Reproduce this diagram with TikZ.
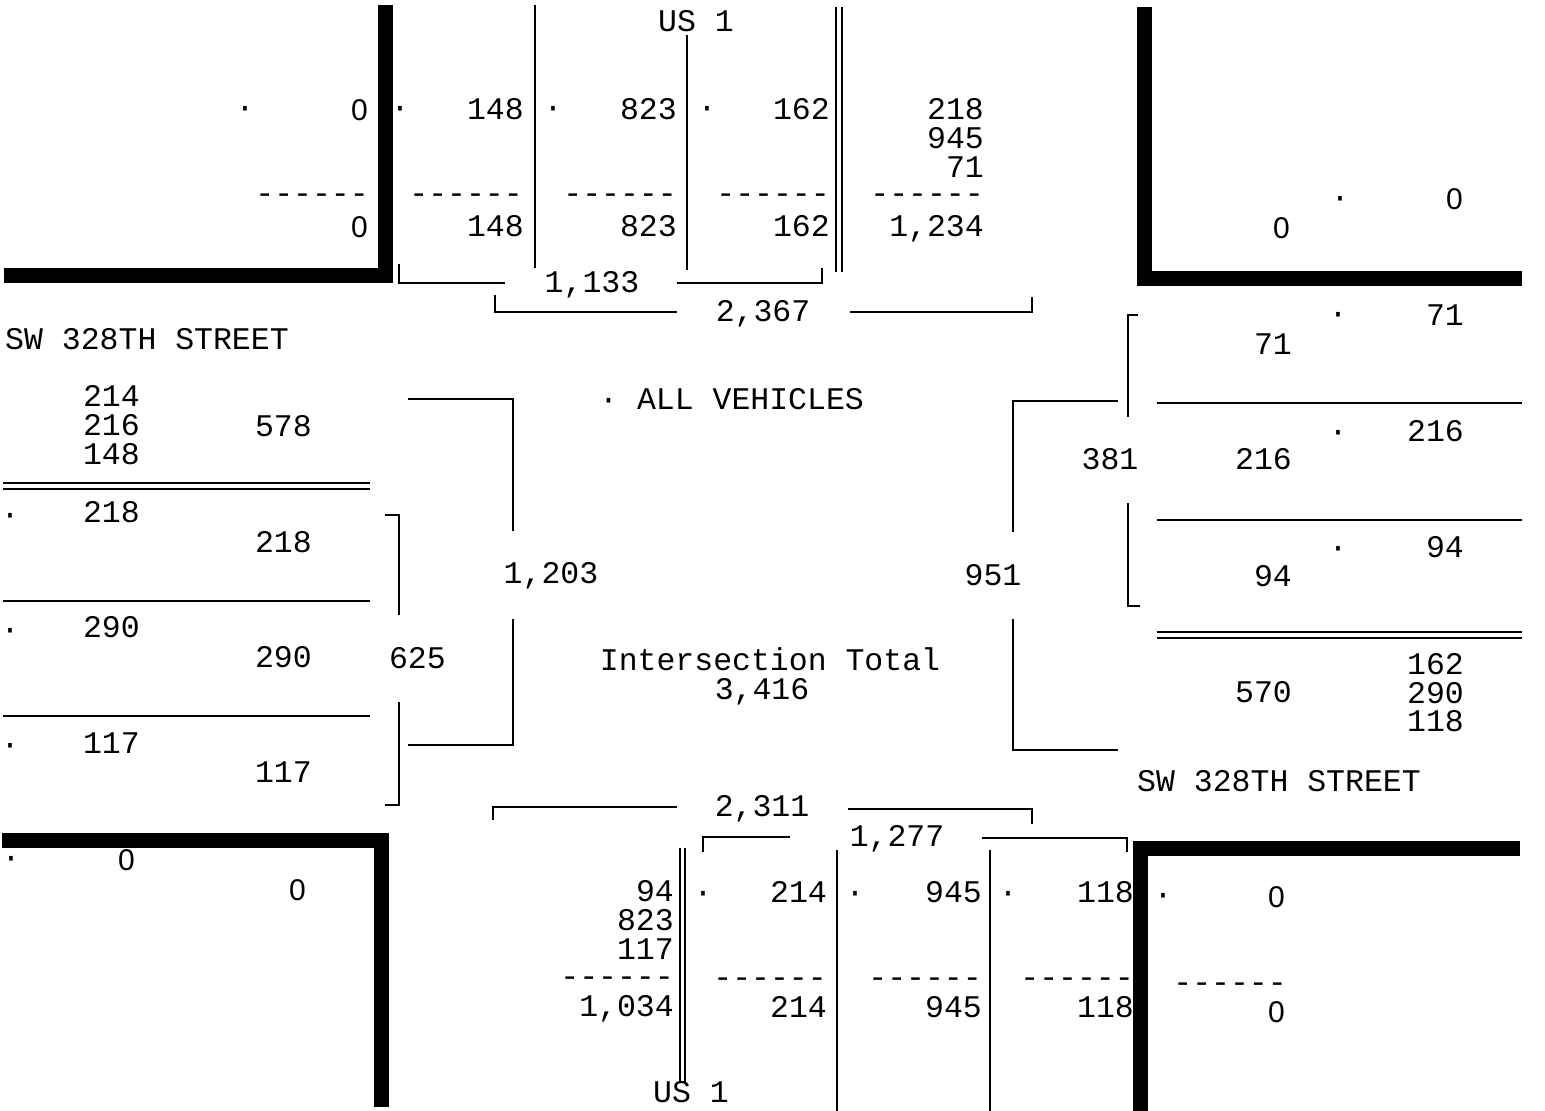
\documentclass[tikz,border=0pt]{standalone}
\usepackage{fontspec}
\newfontfamily\courfont{Liberation Mono}
\newfontfamily\helvfont{Liberation Sans}
\newcommand\tfont{\courfont\fontsize{31.5}{31.5}\selectfont}
\newcommand\zfont{\helvfont\fontsize{30}{30}\selectfont}
\tikzset{
  numr/.style={font=\tfont, inner sep=0pt, text height=19pt, text depth=0pt, anchor=east},
  numc/.style={numr, anchor=center},
  numw/.style={numr, anchor=west},
  dotm/.style={numr, anchor=center},
  zer/.style={font=\zfont, inner sep=0pt, text height=20pt, text depth=0pt, anchor=east},
  curb/.style={line width=15pt, line join=miter},
  thinline/.style={line width=1.9pt},
}
\begin{document}
\begin{tikzpicture}[x=1pt,y=-1pt]
\useasboundingbox[fill=white] (0,0) rectangle (1545,1111);

% curbs
\draw[curb] (385,5) -- (385,275) -- (4,275);
\draw[curb] (1144,7) -- (1144,278) -- (1522,278);
\draw[curb] (2,840) -- (381,840) -- (381,1107);
\draw[curb] (1140,1111) -- (1140,848) -- (1520,848);

% ---------- north approach ----------
\node[numc] (us1n) at (696,22) {US 1};
\draw[thinline] (535,5) -- (535,268);
\draw[thinline] (687,35) -- (687,270);
\draw[thinline] (836,7) -- (836,272);
\draw[thinline] (842,7) -- (842,272);

\node[dotm] (nd1) at (245,108) {·};
\node[zer] (n0a) at (368,110) {0};
\node[dotm] (nd2) at (400,108) {·};
\node[numr] (n148a) at (524,110) {148};
\node[dotm] (nd3) at (553,108) {·};
\node[numr] (n823a) at (677,110) {823};
\node[dotm] (nd4) at (707,108) {·};
\node[numr] (n162a) at (830,110) {162};
\node[numr] (n218x) at (984,110) {218};
\node[numr] (n945x) at (984,139) {945};
\node[numr] (n71x) at (984,168) {71};

\node[numr] (ndash1) at (369,194) {------};
\node[numr] (ndash2) at (523,194) {------};
\node[numr] (ndash3) at (677,194) {------};
\node[numr] (ndash4) at (830,194) {------};
\node[numr] (ndash5) at (984,194) {------};

\node[zer] (n0b) at (368,227) {0};
\node[numr] (n148b) at (524,227) {148};
\node[numr] (n823b) at (677,227) {823};
\node[numr] (n162b) at (830,227) {162};
\node[numr] (n1234) at (984,227) {1,234};

\node[numc] (n1133) at (592,283) {1,133};
\draw[thinline] (399,264) -- (399,283) -- (505,283);
\draw[thinline] (677,283) -- (822,283) -- (822,268);
\node[numc] (n2367) at (763,312) {2,367};
\draw[thinline] (495,295) -- (495,312) -- (677,312);
\draw[thinline] (850,312) -- (1032,312) -- (1032,297);

% north-east corner
\node[dotm] (ned) at (1340,198) {·};
\node[zer] (ne0a) at (1463,199) {0};
\node[zer] (ne0b) at (1290,228) {0};

% ---------- west approach ----------
\node[numw] (swl) at (5,340) {SW 328TH STREET};
\node[numr] (w214) at (140,397) {214};
\node[numr] (w216) at (140,426) {216};
\node[numr] (w148) at (140,455) {148};
\node[numr] (w578) at (312,427) {578};
\draw[thinline] (3,483) -- (370,483);
\draw[thinline] (3,489) -- (370,489);

\node[dotm] (wd1) at (10,515) {·};
\node[numr] (w218a) at (140,513) {218};
\node[numr] (w218b) at (312,543) {218};
\draw[thinline] (3,601) -- (370,601);
\node[dotm] (wd2) at (10,630) {·};
\node[numr] (w290a) at (140,628) {290};
\node[numr] (w290b) at (312,658) {290};
\draw[thinline] (3,716) -- (370,716);
\node[dotm] (wd3) at (10,745) {·};
\node[numr] (w117a) at (140,744) {117};
\node[numr] (w117b) at (312,773) {117};

\node[numr] (w625) at (446,659) {625};
\draw[thinline] (385,515) -- (399,515) -- (399,615);
\draw[thinline] (399,702) -- (399,805) -- (385,805);

\node[numc] (w1203) at (551,574) {1,203};
\draw[thinline] (408,399) -- (513,399) -- (513,531);
\draw[thinline] (513,619) -- (513,745) -- (408,745);

% south-west corner
\node[dotm] (swd) at (11,858) {·};
\node[zer] (sw0a) at (135,860) {0};
\node[zer] (sw0b) at (306,890) {0};

% ---------- centre ----------
\node[numw] (allv) at (599,400) {· ALL VEHICLES};
\node[numc] (itot) at (770,661) {Intersection Total};
\node[numc] (itotn) at (762,690) {3,416};

% ---------- east approach ----------
\node[numc] (e951) at (993,576) {951};
\draw[thinline] (1118,401) -- (1013,401) -- (1013,532);
\draw[thinline] (1013,619) -- (1013,750) -- (1118,750);

\node[numc] (e381) at (1110,460) {381};
\draw[thinline] (1138,315) -- (1128,315) -- (1128,417);
\draw[thinline] (1128,503) -- (1128,606) -- (1140,606);

\node[dotm] (ed1) at (1338,314) {·};
\node[numr] (e71a) at (1464,316) {71};
\node[numr] (e71b) at (1292,345) {71};
\draw[thinline] (1157,403) -- (1522,403);
\node[dotm] (ed2) at (1338,432) {·};
\node[numr] (e216a) at (1464,432) {216};
\node[numr] (e216b) at (1292,460) {216};
\draw[thinline] (1157,520) -- (1522,520);
\node[dotm] (ed3) at (1338,548) {·};
\node[numr] (e94a) at (1464,548) {94};
\node[numr] (e94b) at (1292,577) {94};
\draw[thinline] (1157,632) -- (1522,632);
\draw[thinline] (1157,638) -- (1522,638);
\node[numr] (e162) at (1464,665) {162};
\node[numr] (e290) at (1464,694) {290};
\node[numr] (e118) at (1464,722) {118};
\node[numr] (e570) at (1292,693) {570};
\node[numw] (swr) at (1137,782) {SW 328TH STREET};

% ---------- south approach ----------
\node[numc] (n2311) at (762,807) {2,311};
\draw[thinline] (493,820) -- (493,807) -- (677,807);
\draw[thinline] (848,809) -- (1032,809) -- (1032,824);
\node[numc] (n1277) at (897,837) {1,277};
\draw[thinline] (703,852) -- (703,837) -- (790,837);
\draw[thinline] (982,838) -- (1127,838) -- (1127,852);

\draw[thinline] (680,848) -- (680,1082);
\draw[thinline] (685,848) -- (685,1082);
\draw[thinline] (837,850) -- (837,1111);
\draw[thinline] (990,850) -- (990,1111);
\node[numc] (us1s) at (691,1093) {US 1};

\node[numr] (s94) at (674,892) {94};
\node[numr] (s823) at (674,921) {823};
\node[numr] (s117) at (674,950) {117};
\node[numr] (sdash1) at (674,977) {------};
\node[numr] (s1034) at (674,1007) {1,034};

\node[dotm] (sd1) at (703,893) {·};
\node[numr] (s214a) at (827,893) {214};
\node[numr] (sdash2) at (827,978) {------};
\node[numr] (s214b) at (827,1008) {214};

\node[dotm] (sd2) at (855,893) {·};
\node[numr] (s945a) at (982,893) {945};
\node[numr] (sdash3) at (982,978) {------};
\node[numr] (s945b) at (982,1008) {945};

\node[dotm] (sd3) at (1008,893) {·};
\node[numr] (s118a) at (1134,893) {118};
\node[numr] (sdash4) at (1134,978) {------};
\node[numr] (s118b) at (1134,1008) {118};

\node[dotm] (sd4) at (1163,895) {·};
\node[zer] (se0a) at (1285,897) {0};
\node[numr] (sdash5) at (1287,983) {------};
\node[zer] (se0b) at (1285,1012) {0};
\end{tikzpicture}
\end{document}
